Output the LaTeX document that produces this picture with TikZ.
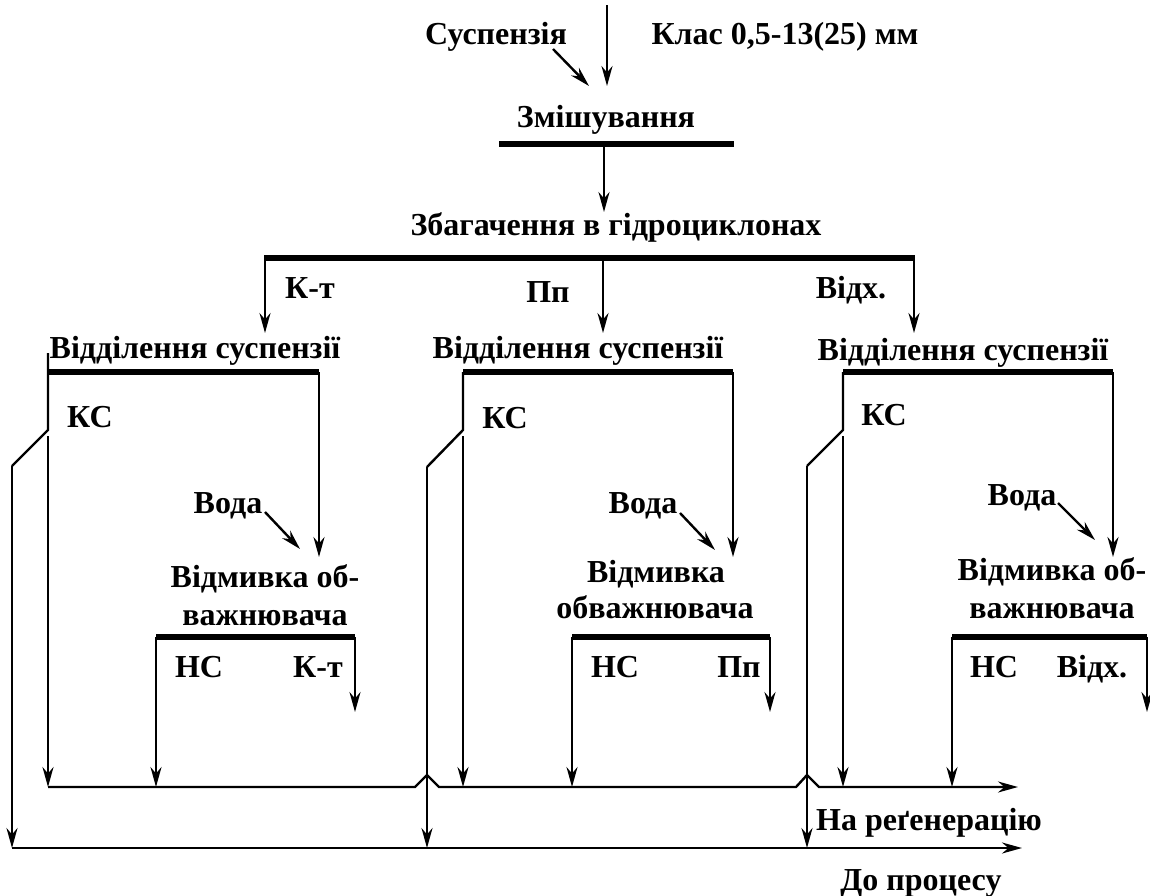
\documentclass[tikz,border=0pt]{standalone}
\usepackage{fontspec}
\setmainfont{Liberation Serif}
\usepackage{tikz}
\usetikzlibrary{arrows.meta}

\begin{document}
\begin{tikzpicture}[x=1pt,y=-1pt,>={Stealth[length=20pt,width=11pt]}]
\tikzset{lbl/.style={font=\bfseries\fontsize{32}{36}\selectfont,inner sep=0pt,anchor=base},
  bar/.style={line width=5.5pt},
  ln/.style={line width=2.4pt},
  flow/.style={ln,->}}
\useasboundingbox (0,0) rectangle (1150,895);
% input and mixing
\node[lbl] (susp) at (496,44) {Суспензія};
\node[lbl] (klas) at (785,44) {Клас 0,5-13(25) мм};
\node[lbl] (mix) at (606,127) {Змішування};
\coordinate (in) at (607,5); \coordinate (mixin) at (607,86);
\coordinate (suspA) at (553,49); \coordinate (suspB) at (589,86);
\coordinate (mixL) at (499,144); \coordinate (mixR) at (734,144);
\coordinate (mixout) at (604,144); \coordinate (hcin) at (604,212);
\draw[flow] (in) -- (mixin); \draw[flow] (suspA) -- (suspB);
\draw[bar] (mixL) -- (mixR); \draw[flow] (mixout) -- (hcin);
% hydrocyclones
\node[lbl] (hc) at (616,235) {Збагачення в гідроциклонах};
\coordinate (hcL) at (264,258); \coordinate (hcM) at (603,258); \coordinate (hcR) at (915,258);
\draw[bar] (hcL) -- (hcR);
\node[lbl] (kt) at (310,298) {К-т};
\node[lbl] (pp) at (548,302) {Пп};
\node[lbl] (vidh) at (851,298) {Відх.};
\draw[flow] (265,258) -- (265,333) coordinate (sepAin);
\draw[flow] (hcM) -- (603,333) coordinate (sepBin);
\draw[flow] (914,258) -- (914,333) coordinate (sepCin);
% separation, left
\node[lbl] (sepA) at (195,358) {Відділення суспензії};
\coordinate (sepAL) at (48,372); \coordinate (sepAR) at (319,372);
\draw[bar] (sepAL) -- (sepAR);
\node[lbl] (ksA) at (90,427) {КС};
\draw[ln] (48,353) -- (48,430) coordinate (splitA) -- (12,466) coordinate (jogA);
\draw[flow] (48,436) -- (48,787) coordinate (regA);
\draw[flow] (jogA) -- (12,848) coordinate (procA);
\node[lbl] (wA) at (228,513) {Вода};
\draw[flow] (265,512) -- (300,549);
\draw[flow] (sepAR) -- (319,557) coordinate (washAin);
\node[lbl] (washA1) at (265,587) {Відмивка об-};
\node[lbl] (washA2) at (265,625) {важнювача};
\coordinate (washAL) at (156,637); \coordinate (washAR) at (355,637);
\draw[bar] (washAL) -- (washAR);
\node[lbl] (nsA) at (199,677) {НС};
\node[lbl] (outA) at (318,677) {К-т};
\draw[flow] (washAR) -- (355,712);
\draw[flow] (washAL) -- (156,787);
% separation, middle
\node[lbl] (sepB) at (578,358) {Відділення суспензії};
\coordinate (sepBL) at (463,372); \coordinate (sepBR) at (733,372);
\draw[bar] (sepBL) -- (sepBR);
\node[lbl] (ksB) at (505,428) {КС};
\draw[ln] (sepBL) -- (463,430) coordinate (splitB) -- (427,467) coordinate (jogB);
\draw[flow] (463,436) -- (463,787) coordinate (regB);
\draw[flow] (jogB) -- (427,848) coordinate (procB);
\node[lbl] (wB) at (643,513) {Вода};
\draw[flow] (680,513) -- (715,550);
\draw[flow] (sepBR) -- (733,557) coordinate (washBin);
\node[lbl] (washB1) at (656,582) {Відмивка};
\node[lbl] (washB2) at (655,618) {обважнювача};
\coordinate (washBL) at (572,637); \coordinate (washBR) at (770,637);
\draw[bar] (washBL) -- (washBR);
\node[lbl] (nsB) at (615,677) {НС};
\node[lbl] (outB) at (739,677) {Пп};
\draw[flow] (washBR) -- (770,712);
\draw[flow] (washBL) -- (572,787);
% separation, right
\node[lbl] (sepC) at (963,360) {Відділення суспензії};
\coordinate (sepCL) at (843,372); \coordinate (sepCR) at (1113,372);
\draw[bar] (sepCL) -- (sepCR);
\node[lbl] (ksC) at (884,425) {КС};
\draw[ln] (sepCL) -- (843,430) coordinate (splitC) -- (807,466) coordinate (jogC);
\draw[flow] (843,436) -- (843,787) coordinate (regC);
\draw[flow] (jogC) -- (807,848) coordinate (procC);
\node[lbl] (wC) at (1022,505) {Вода};
\draw[flow] (1058,503) -- (1095,540);
\draw[flow] (sepCR) -- (1113,557) coordinate (washCin);
\node[lbl] (washC1) at (1052,580) {Відмивка об-};
\node[lbl] (washC2) at (1052,618) {важнювача};
\coordinate (washCL) at (952,637); \coordinate (washCR) at (1147,637);
\draw[bar] (washCL) -- (washCR);
\node[lbl] (nsC) at (994,677) {НС};
\node[lbl] (outC) at (1092,677) {Відх.};
\draw[flow] (washCR) -- (1147,712);
\draw[flow] (washCL) -- (952,787);
% collecting lines
\coordinate (regEnd) at (1018,787); \coordinate (procEnd) at (1022,848);
\draw[flow] (regA) -- (415,787) -- (427,775) -- (439,787) -- (796,787) -- (807,775) -- (819,787) -- (regEnd);
\draw[flow] (procA) -- (procEnd);
\node[lbl] (regen) at (929,830) {На реґенерацію};
\node[lbl] (proc) at (921,890) {До процесу};
\end{tikzpicture}
\end{document}
